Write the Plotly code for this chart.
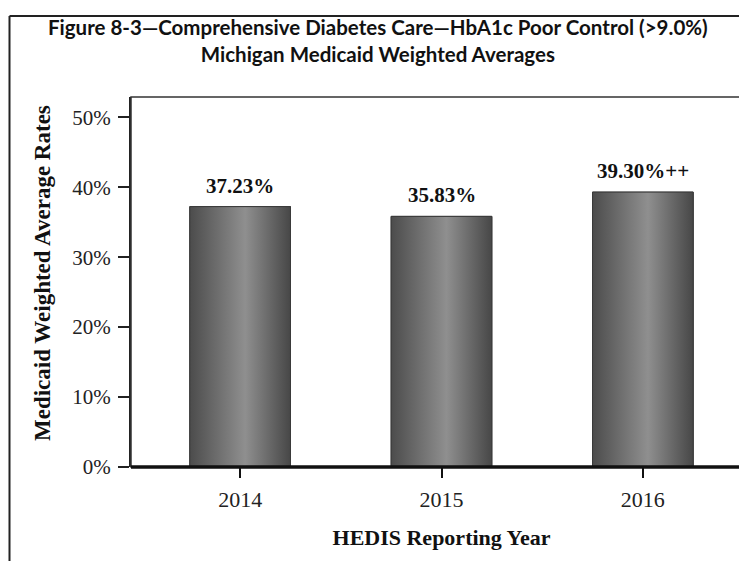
import plotly.graph_objects as go

years = ["2014", "2015", "2016"]
rates = [37.23, 35.83, 39.30]
labels = ["37.23%", "35.83%", "39.30%++"]
y_ticks = [0, 10, 20, 30, 40, 50]
y_tick_text = ["0%", "10%", "20%", "30%", "40%", "50%"]

BAR_W = 0.5
serif = "Liberation Serif, Times New Roman, serif"

W, H = 747, 561
ML, MR, MT, MB = 123, 3, 89, 102
PW, PH = W - ML - MR, H - MT - MB


def px_x(p):
    return (p - ML) / PW


def px_y(p):
    return (H - MB - p) / PH


fig = go.Figure()

# base bar trace (structure), overlaid by gradient fills
fig.add_trace(go.Bar(
    x=list(range(len(years))), y=rates, width=BAR_W,
    marker=dict(color="#6e6e6e", line=dict(color="#3a3a3a", width=1)),
    hoverinfo="skip", showlegend=False,
))

for i, v in enumerate(rates):
    fig.add_trace(go.Scatter(
        x=[i - BAR_W / 2, i + BAR_W / 2, i + BAR_W / 2, i - BAR_W / 2, i - BAR_W / 2],
        y=[0, 0, v, v, 0],
        mode="lines", fill="toself",
        fillgradient=dict(type="horizontal",
                          colorscale=[[0, "#4c4c4c"], [0.55, "#8f8f8f"], [1, "#474747"]]),
        line=dict(color="#3a3a3a", width=1),
        hoverinfo="skip", showlegend=False,
    ))

for i, (v, t) in enumerate(zip(rates, labels)):
    fig.add_annotation(x=i, y=v, text="<b>" + t + "</b>", showarrow=False, yanchor="bottom", yshift=7,
                       font=dict(family=serif, size=21, color="#111111"))

fig.update_layout(
    width=W, height=H,
    margin=dict(l=ML, r=MR, t=MT, b=MB),
    paper_bgcolor="white", plot_bgcolor="white",
    bargap=0.5,
    xaxis=dict(
        range=[-0.542, 2.542], tickmode="array", tickvals=list(range(len(years))), ticktext=years,
        ticks="outside", ticklen=10, tickwidth=1.5, tickcolor="#111111",
        showgrid=False, zeroline=False, showline=False,
        tickfont=dict(family=serif, size=22, color="#222222"), ticklabelstandoff=3,
        title=dict(text="<b>HEDIS Reporting Year</b>", standoff=18,
                   font=dict(family=serif, size=22, color="#111111")),
    ),
    yaxis=dict(
        range=[0, 52.9], tickmode="array", tickvals=y_ticks, ticktext=y_tick_text,
        ticks="outside", ticklen=11, tickwidth=1.5, tickcolor="#222222",
        showgrid=False, zeroline=False, showline=True, linecolor="#222222", linewidth=2,
        tickfont=dict(family=serif, size=21, color="#222222"), ticklabelstandoff=3,
    ),
    showlegend=False,
)

# y-axis title
fig.add_annotation(
    xref="paper", yref="paper", x=px_x(34), y=px_y(265),
    text="<b>Medicaid Weighted Average Rates</b>", textangle=-90, showarrow=False,
    xanchor="center", yanchor="middle",
    font=dict(family=serif, size=23, color="#111111"),
)

# plot box (top and right edges)
fig.add_shape(type="rect", xref="paper", yref="paper", x0=0, y0=0, x1=1, y1=1,
              line=dict(color="#333333", width=1.5), layer="above")
# thick baseline
fig.add_shape(type="line", xref="paper", yref="paper", x0=0, y0=0, x1=1, y1=0,
              line=dict(color="#111111", width=3.5), layer="above")
# outer frame (left and top edges)
fig.add_shape(type="line", xref="paper", yref="paper",
              x0=px_x(1.5), y0=px_y(8), x1=px_x(1.5), y1=px_y(H + 10),
              line=dict(color="#222222", width=2))
fig.add_shape(type="line", xref="paper", yref="paper",
              x0=px_x(1.5), y0=px_y(8), x1=px_x(W + 10), y1=px_y(8),
              line=dict(color="#222222", width=2))

fig.add_annotation(
    xref="paper", yref="paper", x=px_x(370), y=px_y(32),
    text="<b>Figure 8-3—Comprehensive Diabetes Care—HbA1c Poor Control (>9.0%)</b><br><b>Michigan Medicaid Weighted Averages</b>",
    showarrow=False, xanchor="center", yanchor="middle", align="center",
    font=dict(family="Lato, Noto Sans, sans-serif", size=20.5, color="#111111"),
)

fig.write_html("out.html")
